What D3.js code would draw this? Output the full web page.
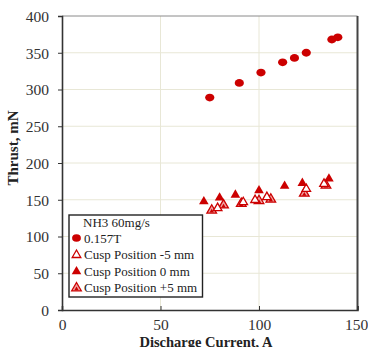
<!DOCTYPE html>
<html>
<head>
<meta charset="utf-8">
<script src="https://cdn.jsdelivr.net/npm/d3@7/dist/d3.min.js"></script>
<style>
  html, body { margin: 0; padding: 0; background: #fff; }
  svg { display: block; }
  text { font-family: "Liberation Serif", "Times New Roman", Tinos, serif; fill: #222; }
</style>
</head>
<body>
<svg id="chart" width="368" height="347"></svg>
<script>
// Thrust vs discharge current, NH3 at 60 mg/s
const xTicks = [0, 50, 100, 150];
const yTicks = [0, 50, 100, 150, 200, 250, 300, 350, 400];

// 0.157 T field
const fieldCurrent = [75, 90, 101, 112, 118, 124, 137, 140];
const fieldThrust  = [289, 309, 323, 337, 343, 350, 368, 371];

// Cusp position -5 mm
const cuspM5Current = [79, 92, 98, 104, 124, 133];
const cuspM5Thrust  = [140, 148, 151, 155, 166, 173];

// Cusp position 0 mm
const cusp0Current = [72, 80, 88, 100, 113, 122, 135.5];
const cusp0Thrust  = [149, 154, 158, 164, 170, 174, 180];

// Cusp position +5 mm
const cuspP5Current = [76, 82, 91, 100, 106, 123, 134];
const cuspP5Thrust  = [137, 144, 146, 150, 152, 160, 171];

const legendTitle = "NH3 60mg/s";
const legendLabels = ["0.157T", "Cusp Position -5 mm", "Cusp Position 0 mm", "Cusp Position +5 mm"];

const red = "#cc0000";
const margin = { left: 62, top: 16, right: 10.5, bottom: 37 };
const W = 368, H = 347;

const svg = d3.select("#chart");
const x = d3.scaleLinear().domain([0, 150]).range([margin.left, W - margin.right]);
const y = d3.scaleLinear().domain([0, 400]).range([H - margin.bottom, margin.top]);

// gridlines
const grid = svg.append("g");
grid.selectAll("line.h").data(yTicks.filter(d => d > 0 && d < 400)).join("line")
  .attr("x1", x(0)).attr("x2", x(150))
  .attr("y1", d => y(d)).attr("y2", d => y(d))
  .attr("stroke", "#e8e7d6").attr("stroke-width", 1);
grid.selectAll("line.v").data(xTicks.filter(d => d > 0 && d < 150)).join("line")
  .attr("y1", y(0)).attr("y2", y(400))
  .attr("x1", d => x(d)).attr("x2", d => x(d))
  .attr("stroke", "#e8e7d6").attr("stroke-width", 1);

// frame: light top, dark right
svg.append("line").attr("x1", x(0)).attr("x2", x(150)).attr("y1", y(400)).attr("y2", y(400))
  .attr("stroke", "#8a8a8a").attr("stroke-width", 1);
svg.append("line").attr("x1", x(150)).attr("x2", x(150)).attr("y1", y(400)).attr("y2", y(0))
  .attr("stroke", "#444").attr("stroke-width", 2);

// axes
const yAxis = svg.append("g").attr("transform", `translate(${x(0)},0)`)
  .call(d3.axisLeft(y).tickValues(yTicks).tickSize(4).tickPadding(9));
const xAxis = svg.append("g").attr("transform", `translate(0,${y(0)})`)
  .call(d3.axisBottom(x).tickValues(xTicks).tickSize(-4).tickPadding(9));
[xAxis, yAxis].forEach(g => {
  g.attr("font-family", null);
  g.select(".domain").attr("stroke", "#333").attr("stroke-width", 1.6);
  g.selectAll(".tick line").attr("stroke", "#333").attr("stroke-width", 1);
  g.selectAll(".tick text").attr("font-size", 15.5).style("fill", "#333");
});
yAxis.selectAll(".tick text").attr("dy", "0.35em");
yAxis.selectAll(".tick").filter(d => d === 400).select("line").remove();
xAxis.selectAll(".tick").filter(d => d === 150).select("text").attr("dx", -1.5);

// axis titles
svg.append("text").attr("x", 206).attr("y", 346.5)
  .attr("text-anchor", "middle").attr("font-weight", "bold").attr("font-size", 14.5)
  .text("Discharge Current, A");
svg.append("text").attr("transform", "translate(18,148) rotate(-90)")
  .attr("text-anchor", "middle").attr("font-weight", "bold").attr("font-size", 15)
  .text("Thrust, mN");

// markers
const tri = d3.symbol().type(d3.symbolTriangle).size(40);
const triSmall = d3.symbol().type(d3.symbolTriangle).size(32);
const triCore = d3.symbol().type(d3.symbolTriangle).size(8);

const pts = (xs, ys) => xs.map((v, i) => ({ x: v, y: ys[i] }));

svg.append("g").selectAll("ellipse").data(pts(fieldCurrent, fieldThrust)).join("ellipse")
  .attr("cx", d => x(d.x)).attr("cy", d => y(d.y))
  .attr("rx", 4.6).attr("ry", 3.9).attr("fill", red);

// +5 mm: hatched look — pink fill, red outline, inner core
const p5 = svg.append("g").selectAll("g").data(pts(cuspP5Current, cuspP5Thrust)).join("g")
  .attr("transform", d => `translate(${x(d.x)},${y(d.y) + 1})`);
p5.append("path").attr("d", tri).attr("fill", "#f0a0a0").attr("stroke", red).attr("stroke-width", 1.3);
p5.append("path").attr("d", triCore).attr("fill", red).attr("transform", "translate(0,1)");

svg.append("g").selectAll("path").data(pts(cuspM5Current, cuspM5Thrust)).join("path")
  .attr("transform", d => `translate(${x(d.x)},${y(d.y) + 1})`)
  .attr("d", triSmall).attr("fill", "#fff").attr("stroke", red).attr("stroke-width", 1.3);

svg.append("g").selectAll("path").data(pts(cusp0Current, cusp0Thrust)).join("path")
  .attr("transform", d => `translate(${x(d.x)},${y(d.y) + 1})`)
  .attr("d", tri).attr("fill", red);

// legend
const lg = svg.append("g");
lg.append("rect").attr("x", 69).attr("y", 215).attr("width", 133.5).attr("height", 82)
  .attr("fill", "#fff").attr("stroke", "#222").attr("stroke-width", 1.4);
lg.append("text").attr("x", 83).attr("y", 226.5).attr("font-size", 13).text(legendTitle);
const rowY = [242, 258.5, 275, 291.5];
legendLabels.forEach((t, i) => {
  lg.append("text").attr("x", 84).attr("y", rowY[i] + 0.5).attr("font-size", 13).text(t);
  const mx = 76.5, my = rowY[i] - 4;
  if (i === 0) {
    lg.append("ellipse").attr("cx", mx).attr("cy", my).attr("rx", 4.4).attr("ry", 3.8).attr("fill", red);
  } else if (i === 1) {
    lg.append("path").attr("transform", `translate(${mx},${my + 0.5})`).attr("d", triSmall)
      .attr("fill", "#fff").attr("stroke", red).attr("stroke-width", 1.3);
  } else if (i === 2) {
    lg.append("path").attr("transform", `translate(${mx},${my + 0.5})`).attr("d", tri).attr("fill", red);
  } else {
    const g = lg.append("g").attr("transform", `translate(${mx},${my + 0.5})`);
    g.append("path").attr("d", tri).attr("fill", "#f0a0a0").attr("stroke", red).attr("stroke-width", 1.3);
    g.append("path").attr("d", triCore).attr("fill", red).attr("transform", "translate(0,1)");
  }
});
</script>
</body>
</html>
